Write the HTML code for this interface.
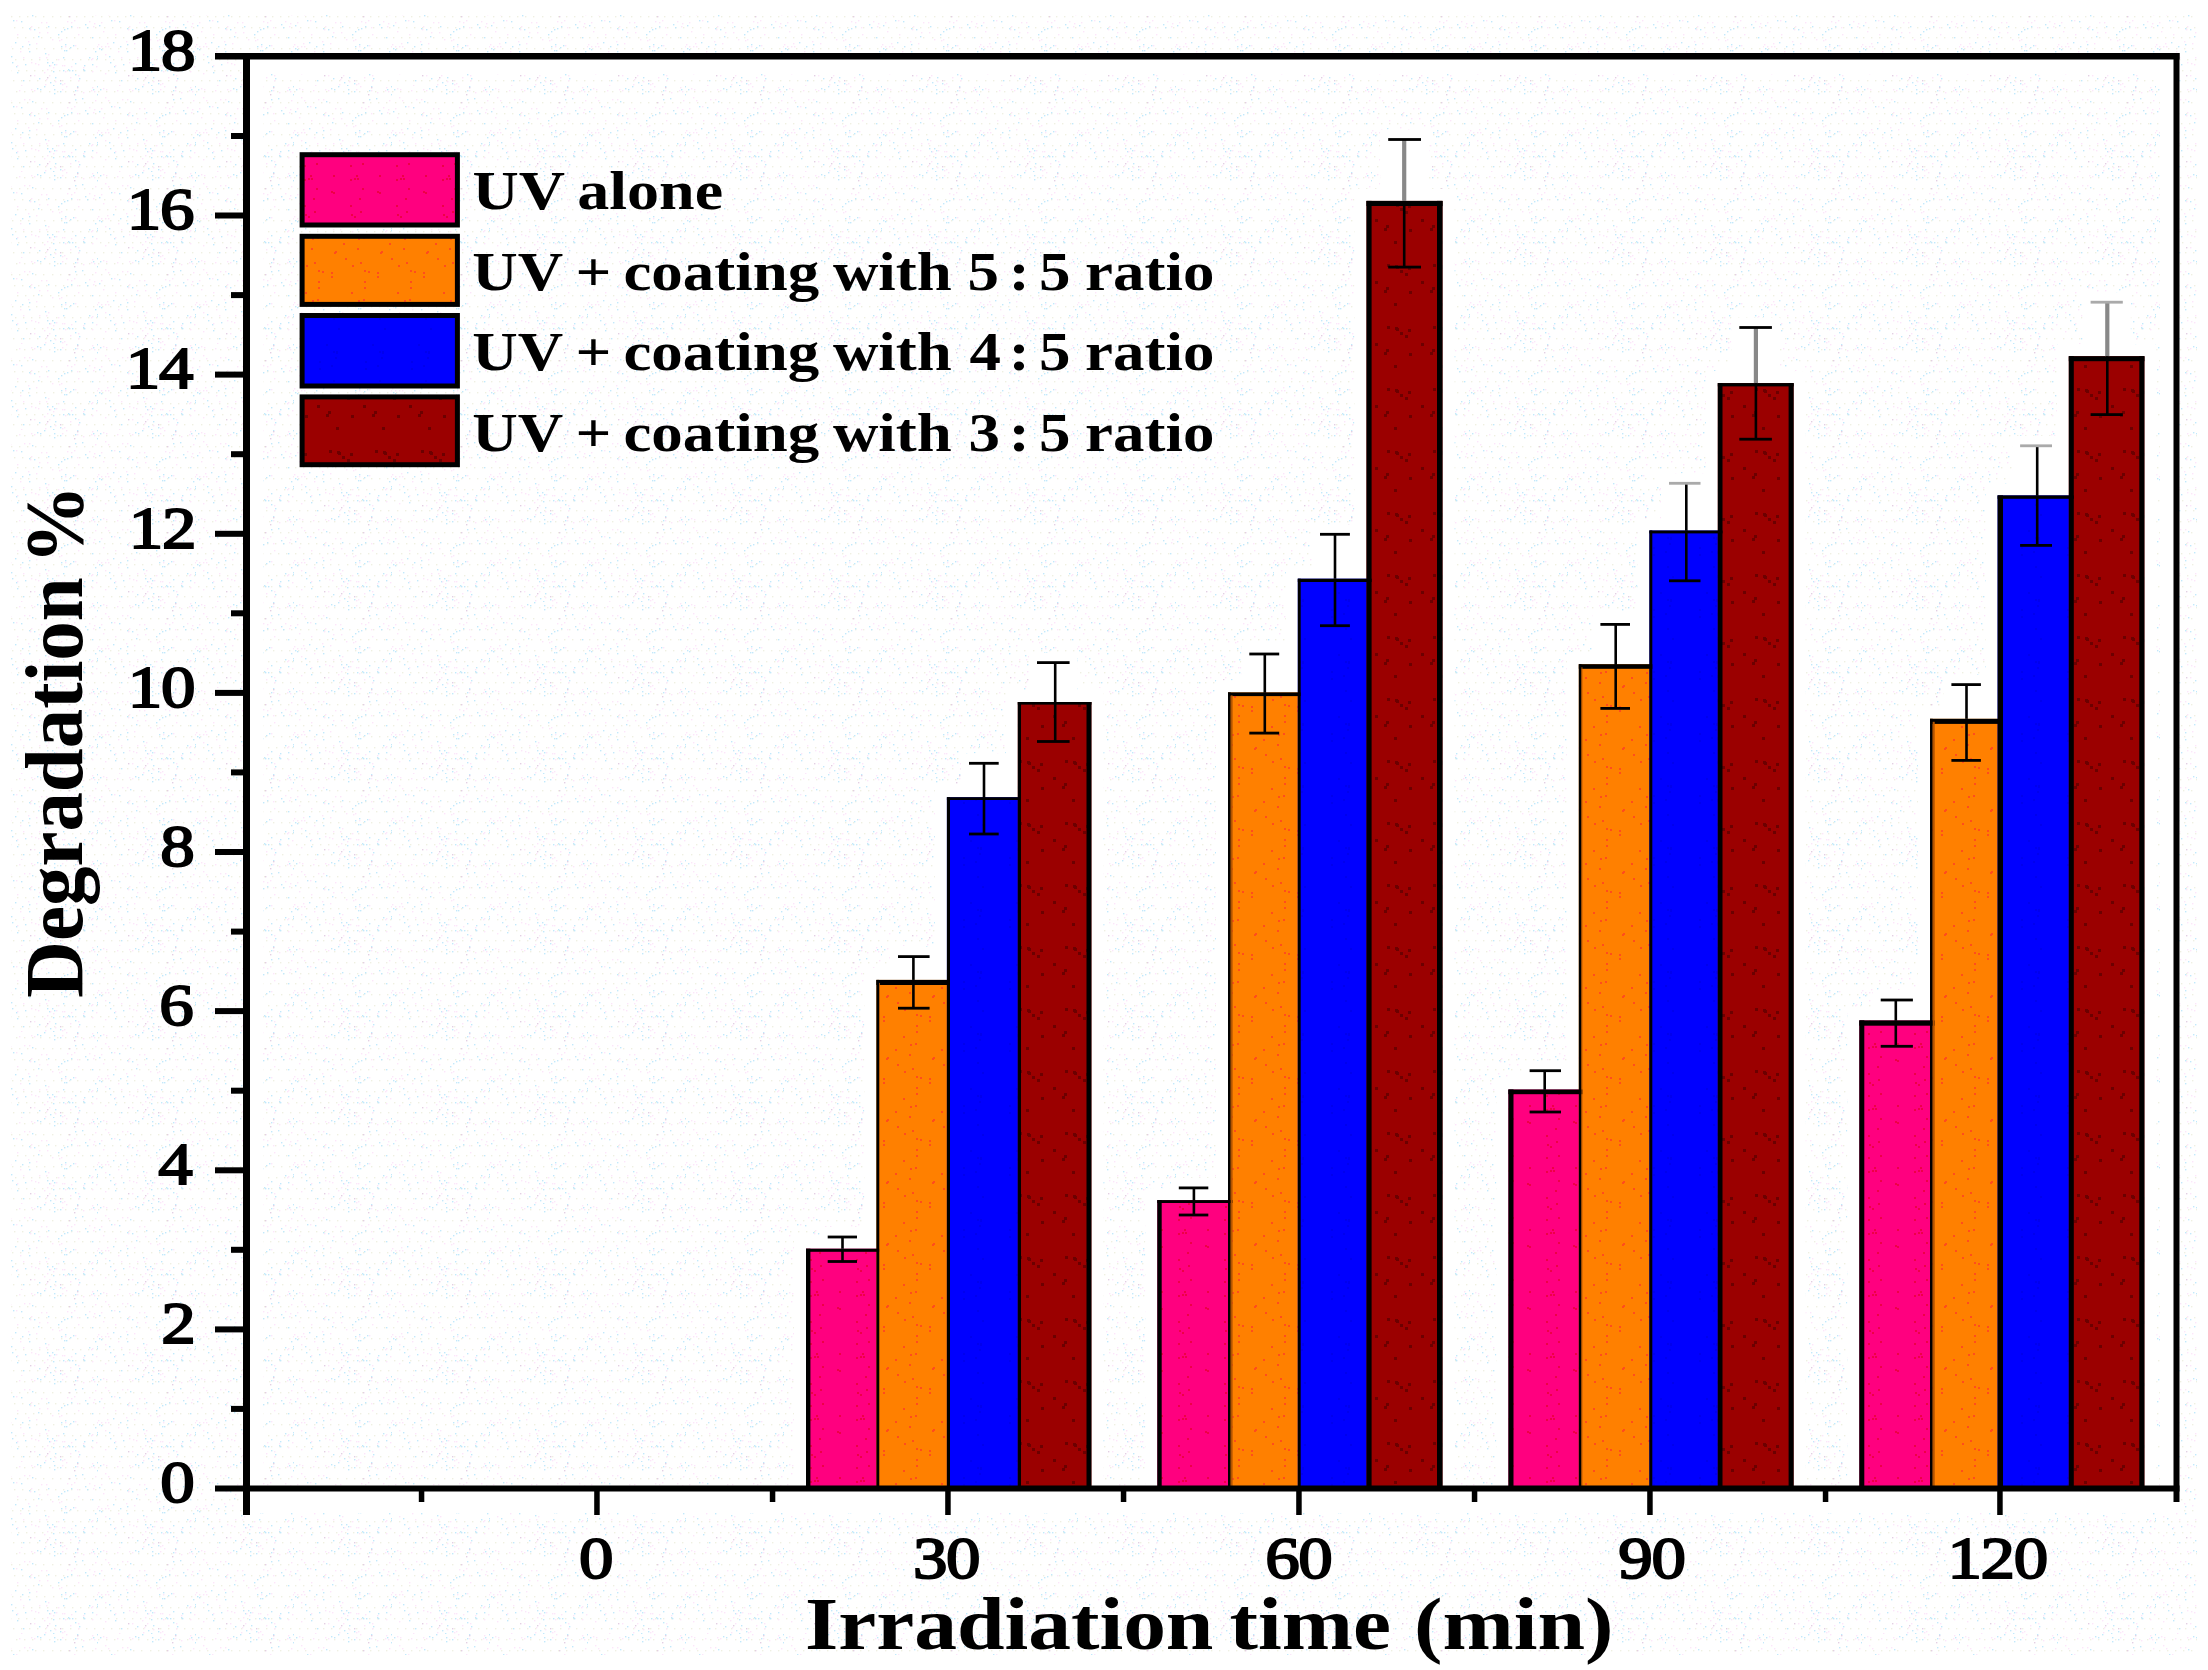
<!DOCTYPE html>
<html lang="en"><head><meta charset="utf-8"><title>Degradation % vs Irradiation time (min)</title>
<style>html,body{margin:0;padding:0;background:#fff}body{width:2208px;height:1670px;overflow:hidden}svg{display:block}text{font-family:"Liberation Serif","DejaVu Serif",serif;font-weight:700;fill:#000}</style></head><body>
<svg width="2208" height="1670" viewBox="0 0 2208 1670">
<defs>
<pattern id="bg" width="98" height="86" patternUnits="userSpaceOnUse"><rect x="0" y="5" width="1.4" height="1.4" fill="#eff0e2"/><rect x="8" y="5" width="1.4" height="1.4" fill="#eff0e2"/><rect x="16" y="5" width="1.4" height="1.4" fill="#eff0e2"/><rect x="24" y="5" width="1.4" height="1.4" fill="#eff0e2"/><rect x="32" y="5" width="1.4" height="1.4" fill="#eff0e2"/><rect x="40" y="5" width="1.4" height="1.4" fill="#eff0e2"/><rect x="49" y="5" width="1.4" height="1.4" fill="#eff0e2"/><rect x="57" y="5" width="1.4" height="1.4" fill="#eff0e2"/><rect x="65" y="5" width="1.4" height="1.4" fill="#eff0e2"/><rect x="73" y="5" width="1.4" height="1.4" fill="#eff0e2"/><rect x="81" y="5" width="1.4" height="1.4" fill="#eff0e2"/><rect x="89" y="5" width="1.4" height="1.4" fill="#eff0e2"/><rect x="3" y="16" width="1.4" height="1.4" fill="#eff0e2"/><rect x="11" y="16" width="1.4" height="1.4" fill="#eff0e2"/><rect x="19" y="16" width="1.4" height="1.4" fill="#eff0e2"/><rect x="27" y="16" width="1.4" height="1.4" fill="#eff0e2"/><rect x="35" y="16" width="1.4" height="1.4" fill="#eff0e2"/><rect x="43" y="16" width="1.4" height="1.4" fill="#eff0e2"/><rect x="52" y="16" width="1.4" height="1.4" fill="#eff0e2"/><rect x="60" y="16" width="1.4" height="1.4" fill="#eff0e2"/><rect x="68" y="16" width="1.4" height="1.4" fill="#eff0e2"/><rect x="76" y="16" width="1.4" height="1.4" fill="#eff0e2"/><rect x="84" y="16" width="1.4" height="1.4" fill="#eff0e2"/><rect x="92" y="16" width="1.4" height="1.4" fill="#eff0e2"/><rect x="6" y="27" width="1.4" height="1.4" fill="#eff0e2"/><rect x="14" y="27" width="1.4" height="1.4" fill="#eff0e2"/><rect x="22" y="27" width="1.4" height="1.4" fill="#eff0e2"/><rect x="30" y="27" width="1.4" height="1.4" fill="#eff0e2"/><rect x="38" y="27" width="1.4" height="1.4" fill="#eff0e2"/><rect x="46" y="27" width="1.4" height="1.4" fill="#eff0e2"/><rect x="55" y="27" width="1.4" height="1.4" fill="#eff0e2"/><rect x="63" y="27" width="1.4" height="1.4" fill="#eff0e2"/><rect x="71" y="27" width="1.4" height="1.4" fill="#eff0e2"/><rect x="79" y="27" width="1.4" height="1.4" fill="#eff0e2"/><rect x="87" y="27" width="1.4" height="1.4" fill="#eff0e2"/><rect x="95" y="27" width="1.4" height="1.4" fill="#eff0e2"/><rect x="1" y="37" width="1.4" height="1.4" fill="#eff0e2"/><rect x="9" y="37" width="1.4" height="1.4" fill="#eff0e2"/><rect x="17" y="37" width="1.4" height="1.4" fill="#eff0e2"/><rect x="25" y="37" width="1.4" height="1.4" fill="#eff0e2"/><rect x="33" y="37" width="1.4" height="1.4" fill="#eff0e2"/><rect x="41" y="37" width="1.4" height="1.4" fill="#eff0e2"/><rect x="50" y="37" width="1.4" height="1.4" fill="#eff0e2"/><rect x="58" y="37" width="1.4" height="1.4" fill="#eff0e2"/><rect x="66" y="37" width="1.4" height="1.4" fill="#eff0e2"/><rect x="74" y="37" width="1.4" height="1.4" fill="#eff0e2"/><rect x="82" y="37" width="1.4" height="1.4" fill="#eff0e2"/><rect x="90" y="37" width="1.4" height="1.4" fill="#eff0e2"/><rect x="4" y="48" width="1.4" height="1.4" fill="#eff0e2"/><rect x="12" y="48" width="1.4" height="1.4" fill="#eff0e2"/><rect x="20" y="48" width="1.4" height="1.4" fill="#eff0e2"/><rect x="28" y="48" width="1.4" height="1.4" fill="#eff0e2"/><rect x="36" y="48" width="1.4" height="1.4" fill="#eff0e2"/><rect x="44" y="48" width="1.4" height="1.4" fill="#eff0e2"/><rect x="53" y="48" width="1.4" height="1.4" fill="#eff0e2"/><rect x="61" y="48" width="1.4" height="1.4" fill="#eff0e2"/><rect x="69" y="48" width="1.4" height="1.4" fill="#eff0e2"/><rect x="77" y="48" width="1.4" height="1.4" fill="#eff0e2"/><rect x="85" y="48" width="1.4" height="1.4" fill="#eff0e2"/><rect x="93" y="48" width="1.4" height="1.4" fill="#eff0e2"/><rect x="7" y="59" width="1.4" height="1.4" fill="#eff0e2"/><rect x="15" y="59" width="1.4" height="1.4" fill="#eff0e2"/><rect x="23" y="59" width="1.4" height="1.4" fill="#eff0e2"/><rect x="31" y="59" width="1.4" height="1.4" fill="#eff0e2"/><rect x="39" y="59" width="1.4" height="1.4" fill="#eff0e2"/><rect x="47" y="59" width="1.4" height="1.4" fill="#eff0e2"/><rect x="56" y="59" width="1.4" height="1.4" fill="#eff0e2"/><rect x="64" y="59" width="1.4" height="1.4" fill="#eff0e2"/><rect x="72" y="59" width="1.4" height="1.4" fill="#eff0e2"/><rect x="80" y="59" width="1.4" height="1.4" fill="#eff0e2"/><rect x="88" y="59" width="1.4" height="1.4" fill="#eff0e2"/><rect x="96" y="59" width="1.4" height="1.4" fill="#eff0e2"/><rect x="2" y="70" width="1.4" height="1.4" fill="#eff0e2"/><rect x="10" y="70" width="1.4" height="1.4" fill="#eff0e2"/><rect x="18" y="70" width="1.4" height="1.4" fill="#eff0e2"/><rect x="26" y="70" width="1.4" height="1.4" fill="#eff0e2"/><rect x="34" y="70" width="1.4" height="1.4" fill="#eff0e2"/><rect x="42" y="70" width="1.4" height="1.4" fill="#eff0e2"/><rect x="51" y="70" width="1.4" height="1.4" fill="#eff0e2"/><rect x="59" y="70" width="1.4" height="1.4" fill="#eff0e2"/><rect x="67" y="70" width="1.4" height="1.4" fill="#eff0e2"/><rect x="75" y="70" width="1.4" height="1.4" fill="#eff0e2"/><rect x="83" y="70" width="1.4" height="1.4" fill="#eff0e2"/><rect x="91" y="70" width="1.4" height="1.4" fill="#eff0e2"/><rect x="5" y="80" width="1.4" height="1.4" fill="#eff0e2"/><rect x="13" y="80" width="1.4" height="1.4" fill="#eff0e2"/><rect x="21" y="80" width="1.4" height="1.4" fill="#eff0e2"/><rect x="29" y="80" width="1.4" height="1.4" fill="#eff0e2"/><rect x="37" y="80" width="1.4" height="1.4" fill="#eff0e2"/><rect x="45" y="80" width="1.4" height="1.4" fill="#eff0e2"/><rect x="54" y="80" width="1.4" height="1.4" fill="#eff0e2"/><rect x="62" y="80" width="1.4" height="1.4" fill="#eff0e2"/><rect x="70" y="80" width="1.4" height="1.4" fill="#eff0e2"/><rect x="78" y="80" width="1.4" height="1.4" fill="#eff0e2"/><rect x="86" y="80" width="1.4" height="1.4" fill="#eff0e2"/><rect x="94" y="80" width="1.4" height="1.4" fill="#eff0e2"/><rect x="17" y="72" width="1.4" height="1.4" fill="#c2e9fb"/><rect x="97" y="8" width="1.4" height="1.4" fill="#c2e9fb"/><rect x="32" y="15" width="1.4" height="1.4" fill="#c2e9fb"/><rect x="63" y="57" width="1.4" height="1.4" fill="#c2e9fb"/><rect x="60" y="83" width="1.4" height="1.4" fill="#c2e9fb"/><rect x="48" y="26" width="1.4" height="1.4" fill="#c2e9fb"/><rect x="12" y="62" width="1.4" height="1.4" fill="#c2e9fb"/><rect x="3" y="49" width="1.4" height="1.4" fill="#c2e9fb"/><rect x="55" y="77" width="1.4" height="1.4" fill="#c2e9fb"/><rect x="97" y="0" width="1.4" height="1.4" fill="#c2e9fb"/><rect x="89" y="57" width="1.4" height="1.4" fill="#c2e9fb"/><rect x="34" y="29" width="1.4" height="1.4" fill="#c2e9fb"/><rect x="75" y="13" width="1.4" height="1.4" fill="#c2e9fb"/><rect x="40" y="3" width="1.4" height="1.4" fill="#c2e9fb"/><rect x="2" y="3" width="1.4" height="1.4" fill="#c2e9fb"/><rect x="83" y="69" width="1.4" height="1.4" fill="#c2e9fb"/><rect x="1" y="48" width="1.4" height="1.4" fill="#c2e9fb"/><rect x="87" y="27" width="1.4" height="1.4" fill="#c2e9fb"/><rect x="54" y="3" width="1.4" height="1.4" fill="#c2e9fb"/><rect x="67" y="28" width="1.4" height="1.4" fill="#c2e9fb"/><rect x="97" y="56" width="1.4" height="1.4" fill="#c2e9fb"/><rect x="63" y="70" width="1.4" height="1.4" fill="#c2e9fb"/><rect x="29" y="44" width="1.4" height="1.4" fill="#c2e9fb"/><rect x="29" y="28" width="1.4" height="1.4" fill="#c2e9fb"/><rect x="97" y="58" width="1.4" height="1.4" fill="#c2e9fb"/><rect x="37" y="2" width="1.4" height="1.4" fill="#c2e9fb"/><rect x="53" y="71" width="1.4" height="1.4" fill="#c2e9fb"/><rect x="82" y="12" width="1.4" height="1.4" fill="#c2e9fb"/><rect x="23" y="80" width="1.4" height="1.4" fill="#c2e9fb"/><rect x="92" y="37" width="1.4" height="1.4" fill="#c2e9fb"/><rect x="15" y="42" width="1.4" height="1.4" fill="#c2e9fb"/><rect x="92" y="64" width="1.4" height="1.4" fill="#c2e9fb"/><rect x="54" y="64" width="1.4" height="1.4" fill="#c2e9fb"/><rect x="85" y="24" width="1.4" height="1.4" fill="#c2e9fb"/><rect x="38" y="36" width="1.4" height="1.4" fill="#c2e9fb"/><rect x="75" y="63" width="1.4" height="1.4" fill="#c2e9fb"/><rect x="64" y="50" width="1.4" height="1.4" fill="#c2e9fb"/><rect x="75" y="4" width="1.4" height="1.4" fill="#c2e9fb"/><rect x="61" y="31" width="1.4" height="1.4" fill="#c2e9fb"/><rect x="95" y="51" width="1.4" height="1.4" fill="#c2e9fb"/><rect x="53" y="85" width="1.4" height="1.4" fill="#c2e9fb"/><rect x="22" y="46" width="1.4" height="1.4" fill="#c2e9fb"/><rect x="70" y="47" width="1.4" height="1.4" fill="#c2e9fb"/><rect x="11" y="56" width="1.4" height="1.4" fill="#c2e9fb"/><rect x="84" y="65" width="1.4" height="1.4" fill="#c2e9fb"/><rect x="13" y="20" width="1.4" height="1.4" fill="#c2e9fb"/><rect x="66" y="50" width="1.4" height="1.4" fill="#c2e9fb"/><rect x="47" y="62" width="1.4" height="1.4" fill="#c2e9fb"/><rect x="93" y="3" width="1.4" height="1.4" fill="#c2e9fb"/><rect x="60" y="5" width="1.4" height="1.4" fill="#c2e9fb"/><rect x="39" y="78" width="1.4" height="1.4" fill="#c2e9fb"/><rect x="75" y="74" width="1.4" height="1.4" fill="#c2e9fb"/><rect x="50" y="82" width="1.4" height="1.4" fill="#c2e9fb"/><rect x="21" y="21" width="1.4" height="1.4" fill="#c2e9fb"/><rect x="64" y="29" width="1.4" height="1.4" fill="#c2e9fb"/><rect x="1" y="25" width="1.4" height="1.4" fill="#c2e9fb"/><rect x="69" y="70" width="1.4" height="1.4" fill="#c2e9fb"/><rect x="29" y="51" width="1.4" height="1.4" fill="#c2e9fb"/><rect x="65" y="44" width="1.4" height="1.4" fill="#c2e9fb"/><rect x="73" y="45" width="1.4" height="1.4" fill="#c2e9fb"/><rect x="58" y="34" width="1.4" height="1.4" fill="#c2e9fb"/><rect x="84" y="70" width="1.4" height="1.4" fill="#c2e9fb"/><rect x="77" y="0" width="1.4" height="1.4" fill="#c2e9fb"/><rect x="49" y="65" width="1.4" height="1.4" fill="#c2e9fb"/><rect x="16" y="66" width="1.4" height="1.4" fill="#c2e9fb"/><rect x="71" y="26" width="1.4" height="1.4" fill="#c2e9fb"/><rect x="54" y="7" width="1.4" height="1.4" fill="#c2e9fb"/><rect x="61" y="46" width="1.4" height="1.4" fill="#c2e9fb"/><rect x="72" y="70" width="1.4" height="1.4" fill="#c2e9fb"/><rect x="25" y="64" width="1.4" height="1.4" fill="#c2e9fb"/><rect x="52" y="62" width="1.4" height="1.4" fill="#c2e9fb"/><rect x="45" y="53" width="1.4" height="1.4" fill="#c2e9fb"/><rect x="44" y="0" width="1.4" height="1.4" fill="#c2e9fb"/><rect x="68" y="69" width="1.4" height="1.4" fill="#c2e9fb"/><rect x="79" y="78" width="1.4" height="1.4" fill="#c2e9fb"/><rect x="7" y="11" width="1.4" height="1.4" fill="#fce6fa"/><rect x="10" y="46" width="1.4" height="1.4" fill="#fce6fa"/><rect x="21" y="85" width="1.4" height="1.4" fill="#fce6fa"/><rect x="39" y="32" width="1.4" height="1.4" fill="#fce6fa"/><rect x="77" y="27" width="1.4" height="1.4" fill="#fce6fa"/><rect x="77" y="4" width="1.4" height="1.4" fill="#fce6fa"/><rect x="74" y="20" width="1.4" height="1.4" fill="#fce6fa"/><rect x="55" y="81" width="1.4" height="1.4" fill="#fce6fa"/><rect x="50" y="65" width="1.4" height="1.4" fill="#fce6fa"/><rect x="47" y="69" width="1.4" height="1.4" fill="#fce6fa"/><rect x="56" y="64" width="1.4" height="1.4" fill="#fce6fa"/><rect x="34" y="4" width="1.4" height="1.4" fill="#fce6fa"/><rect x="3" y="46" width="1.4" height="1.4" fill="#fce6fa"/><rect x="59" y="40" width="1.4" height="1.4" fill="#fce6fa"/><rect x="48" y="54" width="1.4" height="1.4" fill="#fce6fa"/><rect x="67" y="21" width="1.4" height="1.4" fill="#fce6fa"/><rect x="71" y="22" width="1.4" height="1.4" fill="#fce6fa"/><rect x="30" y="29" width="1.4" height="1.4" fill="#fce6fa"/><rect x="3" y="22" width="1.4" height="1.4" fill="#fce6fa"/><rect x="41" y="22" width="1.4" height="1.4" fill="#fce6fa"/><rect x="17" y="65" width="1.4" height="1.4" fill="#fce6fa"/><rect x="65" y="46" width="1.4" height="1.4" fill="#fce6fa"/><rect x="65" y="71" width="1.4" height="1.4" fill="#fce6fa"/><rect x="23" y="57" width="1.4" height="1.4" fill="#fce6fa"/><rect x="53" y="67" width="1.4" height="1.4" fill="#fce6fa"/><rect x="97" y="46" width="1.4" height="1.4" fill="#fce6fa"/><rect x="75" y="45" width="1.4" height="1.4" fill="#fce6fa"/><rect x="46" y="57" width="1.4" height="1.4" fill="#fce6fa"/><rect x="20" y="51" width="1.4" height="1.4" fill="#fce6fa"/><rect x="91" y="59" width="1.4" height="1.4" fill="#fce6fa"/><rect x="83" y="67" width="1.4" height="1.4" fill="#fce6fa"/><rect x="31" y="62" width="1.4" height="1.4" fill="#fce6fa"/><rect x="35" y="63" width="1.4" height="1.4" fill="#fce6fa"/><rect x="64" y="65" width="1.4" height="1.4" fill="#fce6fa"/><rect x="45" y="84" width="1.4" height="1.4" fill="#fce6fa"/><rect x="58" y="59" width="1.4" height="1.4" fill="#fce6fa"/><rect x="44" y="72" width="1.4" height="1.4" fill="#fce6fa"/><rect x="92" y="71" width="1.4" height="1.4" fill="#fce6fa"/><rect x="92" y="58" width="1.4" height="1.4" fill="#fce6fa"/><rect x="62" y="84" width="1.4" height="1.4" fill="#fce6fa"/><rect x="28" y="41" width="1.4" height="1.4" fill="#fce6fa"/><rect x="89" y="21" width="1.4" height="1.4" fill="#fce6fa"/><rect x="78" y="34" width="1.4" height="1.4" fill="#fce6fa"/><rect x="61" y="39" width="1.4" height="1.4" fill="#fce6fa"/><rect x="38" y="64" width="1.4" height="1.4" fill="#fce6fa"/><rect x="71" y="66" width="1.4" height="1.4" fill="#fce6fa"/><rect x="64" y="83" width="1.4" height="1.4" fill="#fce6fa"/><rect x="78" y="75" width="1.4" height="1.4" fill="#fce6fa"/><rect x="52" y="39" width="1.4" height="1.4" fill="#fce6fa"/><rect x="93" y="26" width="1.4" height="1.4" fill="#fce6fa"/><rect x="62" y="65" width="1.4" height="1.4" fill="#fce6fa"/><rect x="46" y="79" width="1.4" height="1.4" fill="#fce6fa"/><rect x="9" y="43" width="1.4" height="1.4" fill="#fce6fa"/><rect x="92" y="1" width="1.4" height="1.4" fill="#fce6fa"/><rect x="24" y="13" width="1.4" height="1.4" fill="#fce6fa"/><rect x="7" y="73" width="1.4" height="1.4" fill="#fce6fa"/><rect x="83" y="6" width="1.4" height="1.4" fill="#fce6fa"/><rect x="34" y="75" width="1.4" height="1.4" fill="#fce6fa"/><rect x="29" y="13" width="1.4" height="1.4" fill="#fce6fa"/><rect x="96" y="66" width="1.4" height="1.4" fill="#fce6fa"/><rect x="17" y="34" width="1.4" height="1.4" fill="#fce6fa"/><rect x="31" y="26" width="1.4" height="1.4" fill="#fce6fa"/><rect x="7" y="54" width="1.4" height="1.4" fill="#fce6fa"/><rect x="91" y="4" width="1.4" height="1.4" fill="#fce6fa"/><rect x="7" y="46" width="1.4" height="1.4" fill="#fce6fa"/><rect x="46" y="22" width="1.4" height="1.4" fill="#fce6fa"/><rect x="31" y="3" width="1.4" height="1.4" fill="#fce6fa"/><rect x="10" y="14" width="1.4" height="1.4" fill="#fce6fa"/><rect x="8" y="3" width="1.4" height="1.4" fill="#fce6fa"/><rect x="5" y="2" width="1.4" height="1.4" fill="#fce6fa"/><rect x="47" y="32" width="1.4" height="1.4" fill="#fce6fa"/><rect x="16" y="20" width="1.4" height="1.4" fill="#fce6fa"/><rect x="94" y="23" width="1.4" height="1.4" fill="#fce6fa"/><rect x="66" y="0" width="1.4" height="1.4" fill="#fce6fa"/><rect x="49" y="75" width="1.4" height="1.4" fill="#fce6fa"/><rect x="5" y="31" width="1.4" height="1.4" fill="#fce6fa"/><rect x="19" y="4" width="1.4" height="1.4" fill="#fce6fa"/><rect x="0" y="44" width="1.4" height="1.4" fill="#fce6fa"/><rect x="78" y="80" width="1.4" height="1.4" fill="#fce6fa"/><rect x="95" y="14" width="1.4" height="1.4" fill="#fce6fa"/><rect x="36" y="43" width="1.4" height="1.4" fill="#fce6fa"/><rect x="62" y="3" width="1.4" height="1.4" fill="#fce6fa"/><rect x="39" y="57" width="1.4" height="1.4" fill="#fce6fa"/><rect x="70" y="77" width="1.4" height="1.4" fill="#fce6fa"/><rect x="94" y="5" width="1.4" height="1.4" fill="#fce6fa"/><rect x="30" y="75" width="1.4" height="1.4" fill="#e3cfe3"/><rect x="69" y="16" width="1.4" height="1.4" fill="#e3cfe3"/><rect x="47" y="77" width="1.4" height="1.4" fill="#e3cfe3"/><rect x="60" y="80" width="1.4" height="1.4" fill="#e3cfe3"/><rect x="74" y="8" width="1.4" height="1.4" fill="#e3cfe3"/><rect x="77" y="1" width="1.4" height="1.4" fill="#e3cfe3"/></pattern>
<pattern id="pk" width="46" height="62" patternUnits="userSpaceOnUse"><rect width="46" height="62" fill="#ff007f"/><rect x="28" y="55" width="2" height="2" fill="#ee0046"/><rect x="35" y="54" width="2" height="2" fill="#ee0046"/><rect x="29" y="28" width="2" height="2" fill="#ee0046"/><rect x="32" y="54" width="2" height="2" fill="#ee0046"/><rect x="37" y="12" width="2" height="2" fill="#ee0046"/><rect x="11" y="51" width="2" height="2" fill="#ee0046"/><rect x="32" y="30" width="2" height="2" fill="#ee0046"/><rect x="40" y="39" width="2" height="2" fill="#ee0046"/><rect x="11" y="6" width="2" height="2" fill="#ee0046"/><rect x="28" y="19" width="2" height="2" fill="#ee0046"/><rect x="9" y="5" width="2" height="2" fill="#ee0046"/><rect x="34" y="51" width="2" height="2" fill="#ee0046"/><rect x="40" y="2" width="2" height="2" fill="#ee0046"/><rect x="38" y="25" width="2" height="2" fill="#ee0046"/><rect x="28" y="41" width="2" height="2" fill="#ee0046"/></pattern>
<pattern id="og" width="46" height="62" patternUnits="userSpaceOnUse"><rect width="46" height="62" fill="#ff8000"/><rect x="30" y="17" width="2" height="2" fill="#ff4d1c"/><rect x="42" y="33" width="2" height="2" fill="#ff4d1c"/><rect x="42" y="22" width="2" height="2" fill="#ff4d1c"/><rect x="9" y="24" width="2" height="2" fill="#ff4d1c"/><rect x="0" y="23" width="2" height="2" fill="#ff4d1c"/><rect x="30" y="17" width="2" height="2" fill="#ff4d1c"/><rect x="41" y="51" width="2" height="2" fill="#ff4d1c"/><rect x="29" y="44" width="2" height="2" fill="#ff4d1c"/><rect x="38" y="14" width="2" height="2" fill="#ff4d1c"/><rect x="35" y="0" width="2" height="2" fill="#ff4d1c"/><rect x="42" y="39" width="2" height="2" fill="#ff4d1c"/><rect x="9" y="28" width="2" height="2" fill="#ff4d1c"/><rect x="23" y="10" width="2" height="2" fill="#ff4d1c"/><rect x="21" y="57" width="2" height="2" fill="#ff4d1c"/><rect x="13" y="3" width="2" height="2" fill="#ff4d1c"/><rect x="36" y="52" width="2" height="2" fill="#ff4d1c"/><rect x="12" y="4" width="2" height="2" fill="#ff4d1c"/></pattern>
<pattern id="bl" width="46" height="62" patternUnits="userSpaceOnUse"><rect width="46" height="62" fill="#0000ff"/><rect x="16" y="18" width="2" height="2" fill="#0000ee"/><rect x="43" y="58" width="2" height="2" fill="#0000ee"/><rect x="43" y="51" width="2" height="2" fill="#0000ee"/><rect x="11" y="41" width="2" height="2" fill="#0000ee"/><rect x="14" y="42" width="2" height="2" fill="#0000ee"/><rect x="9" y="55" width="2" height="2" fill="#0000ee"/><rect x="14" y="41" width="2" height="2" fill="#0000ee"/><rect x="11" y="8" width="2" height="2" fill="#0000ee"/><rect x="4" y="34" width="2" height="2" fill="#0000ee"/><rect x="13" y="47" width="2" height="2" fill="#0000ee"/></pattern>
<pattern id="dr" width="46" height="62" patternUnits="userSpaceOnUse"><rect width="46" height="62" fill="#9b0000"/><rect x="6" y="39" width="3" height="3" fill="#6c0000"/><rect x="41" y="33" width="3" height="3" fill="#6c0000"/><rect x="15" y="17" width="3" height="3" fill="#6c0000"/><rect x="16" y="18" width="3" height="3" fill="#6c0000"/><rect x="4" y="42" width="3" height="3" fill="#6c0000"/><rect x="28" y="19" width="3" height="3" fill="#6c0000"/><rect x="29" y="43" width="3" height="3" fill="#6c0000"/><rect x="25" y="25" width="3" height="3" fill="#6c0000"/><rect x="7" y="16" width="3" height="3" fill="#6c0000"/><rect x="14" y="55" width="3" height="3" fill="#6c0000"/><rect x="20" y="22" width="3" height="3" fill="#6c0000"/></pattern>
</defs>
<rect width="2208" height="1670" fill="#fff"/>
<rect x="11" y="15" width="2186" height="1640" fill="url(#bg)"/>
<g fill="#fff">
<rect x="250" y="59" width="13" height="1427"/><rect x="2160" y="59" width="14" height="1427"/><rect x="250" y="59" width="1924" height="15"/><rect x="250" y="1491" width="1930" height="22"/>
</g>
<rect x="794.0" y="1236.7" width="98.0" height="251.8" fill="#fff"/>
<rect x="864.4" y="967.9" width="97.6" height="520.6" fill="#fff"/>
<rect x="934.9" y="785.2" width="98.1" height="703.3" fill="#fff"/>
<rect x="1005.8" y="690.0" width="97.6" height="798.5" fill="#fff"/>
<rect x="819.7" y="1227.0" width="45.3" height="21.7" fill="#fff"/>
<rect x="890.0" y="946.6" width="47.6" height="33.3" fill="#fff"/>
<rect x="961.0" y="753.3" width="45.7" height="43.9" fill="#fff"/>
<rect x="1029.0" y="652.6" width="48.6" height="49.4" fill="#fff"/>
<rect x="806.0" y="1248.7" width="74.0" height="239.8" fill="url(#pk)"/>
<rect x="876.4" y="979.9" width="73.6" height="508.6" fill="url(#og)"/>
<rect x="946.9" y="797.2" width="74.1" height="691.3" fill="url(#bl)"/>
<rect x="1017.8" y="702.0" width="73.6" height="786.5" fill="url(#dr)"/>
<rect x="806.0" y="1248.7" width="74.0" height="3.1" fill="#000"/>
<rect x="876.4" y="979.9" width="73.6" height="5.1" fill="#000"/>
<rect x="946.9" y="797.2" width="74.1" height="2.8" fill="#000"/>
<rect x="1017.8" y="702.0" width="73.6" height="2.6" fill="#000"/>
<rect x="806.0" y="1248.7" width="4.4" height="239.8" fill="#000"/>
<rect x="876.4" y="979.9" width="2.7" height="508.6" fill="#000"/>
<rect x="879.1" y="982.9" width="0.9" height="505.6" fill="#b35400"/>
<rect x="946.9" y="797.2" width="3.1" height="691.3" fill="#000"/>
<rect x="1017.8" y="702.0" width="3.2" height="786.5" fill="#000"/>
<rect x="1086.5" y="702.0" width="4.9" height="786.5" fill="#000"/>
<rect x="841.2" y="1237.0" width="2.6" height="11.7" fill="#000"/>
<rect x="841.2" y="1248.7" width="2.6" height="12.8" fill="#000"/>
<rect x="827.7" y="1235.6" width="29.3" height="2.8" fill="#000"/>
<rect x="827.7" y="1260.1" width="29.3" height="2.8" fill="#000"/>
<rect x="912.1" y="956.6" width="2.6" height="23.3" fill="#000"/>
<rect x="912.1" y="979.9" width="2.6" height="28.3" fill="#000"/>
<rect x="898.0" y="955.2" width="31.6" height="2.8" fill="#000"/>
<rect x="898.0" y="1006.8" width="31.6" height="2.8" fill="#000"/>
<rect x="982.7" y="763.3" width="2.6" height="33.9" fill="#000"/>
<rect x="982.7" y="797.2" width="2.6" height="36.8" fill="#000"/>
<rect x="969.0" y="761.9" width="29.7" height="2.8" fill="#000"/>
<rect x="969.0" y="832.6" width="29.7" height="2.8" fill="#000"/>
<rect x="1053.9" y="662.6" width="2.6" height="39.4" fill="#000"/>
<rect x="1053.9" y="702.0" width="2.6" height="39.5" fill="#000"/>
<rect x="1037.0" y="661.2" width="32.6" height="2.8" fill="#000"/>
<rect x="1037.0" y="740.1" width="32.6" height="2.8" fill="#000"/>
<rect x="1145.3" y="1188.1" width="99.3" height="300.4" fill="#fff"/>
<rect x="1216.0" y="680.4" width="96.7" height="808.1" fill="#fff"/>
<rect x="1285.8" y="566.7" width="97.8" height="921.8" fill="#fff"/>
<rect x="1354.5" y="188.9" width="100.0" height="1299.6" fill="#fff"/>
<rect x="1170.8" y="1177.9" width="45.5" height="22.2" fill="#fff"/>
<rect x="1241.3" y="644.0" width="45.9" height="48.4" fill="#fff"/>
<rect x="1312.0" y="524.3" width="45.9" height="54.4" fill="#fff"/>
<rect x="1380.2" y="129.5" width="48.8" height="71.4" fill="#fff"/>
<rect x="1157.3" y="1200.1" width="75.3" height="288.4" fill="url(#pk)"/>
<rect x="1228.0" y="692.4" width="72.7" height="796.1" fill="url(#og)"/>
<rect x="1297.8" y="578.7" width="73.8" height="909.8" fill="url(#bl)"/>
<rect x="1366.5" y="200.9" width="76.0" height="1287.6" fill="url(#dr)"/>
<rect x="1157.3" y="1200.1" width="75.3" height="2.9" fill="#000"/>
<rect x="1228.0" y="692.4" width="72.7" height="3.7" fill="#000"/>
<rect x="1297.8" y="578.7" width="73.8" height="3.3" fill="#000"/>
<rect x="1366.5" y="200.9" width="76.0" height="5.1" fill="#000"/>
<rect x="1157.3" y="1200.1" width="4.4" height="288.4" fill="#000"/>
<rect x="1228.0" y="692.4" width="2.7" height="796.1" fill="#000"/>
<rect x="1230.7" y="695.4" width="1.9" height="793.1" fill="#b35400"/>
<rect x="1297.8" y="578.7" width="2.9" height="909.8" fill="#000"/>
<rect x="1366.5" y="200.9" width="5.1" height="1287.6" fill="#000"/>
<rect x="1437.0" y="200.9" width="5.5" height="1287.6" fill="#000"/>
<rect x="1192.6" y="1187.9" width="2.6" height="12.2" fill="#000"/>
<rect x="1192.6" y="1200.1" width="2.6" height="14.9" fill="#000"/>
<rect x="1178.8" y="1186.5" width="29.5" height="2.8" fill="#000"/>
<rect x="1178.8" y="1213.6" width="29.5" height="2.8" fill="#000"/>
<rect x="1263.5" y="654.0" width="2.6" height="38.4" fill="#000"/>
<rect x="1263.5" y="692.4" width="2.6" height="40.7" fill="#000"/>
<rect x="1249.3" y="652.6" width="29.9" height="2.8" fill="#000"/>
<rect x="1249.3" y="731.7" width="29.9" height="2.8" fill="#000"/>
<rect x="1333.7" y="534.3" width="2.6" height="44.4" fill="#000"/>
<rect x="1333.7" y="578.7" width="2.6" height="47.0" fill="#000"/>
<rect x="1320.0" y="532.9" width="29.9" height="2.8" fill="#000"/>
<rect x="1320.0" y="624.3" width="29.9" height="2.8" fill="#000"/>
<rect x="1402.1" y="139.5" width="4.2" height="61.4" fill="#888"/>
<rect x="1402.9" y="200.9" width="2.6" height="66.2" fill="#000"/>
<rect x="1388.2" y="138.1" width="32.8" height="2.8" fill="#000"/>
<rect x="1388.2" y="265.7" width="32.8" height="2.8" fill="#000"/>
<rect x="1496.4" y="1077.5" width="98.0" height="411.0" fill="#fff"/>
<rect x="1566.8" y="652.2" width="97.5" height="836.3" fill="#fff"/>
<rect x="1637.4" y="518.5" width="97.1" height="970.0" fill="#fff"/>
<rect x="1705.8" y="371.1" width="99.8" height="1117.4" fill="#fff"/>
<rect x="1521.6" y="1060.7" width="47.4" height="28.8" fill="#fff"/>
<rect x="1592.4" y="614.4" width="45.6" height="49.8" fill="#fff"/>
<rect x="1661.0" y="473.3" width="47.5" height="57.2" fill="#fff"/>
<rect x="1731.3" y="317.5" width="48.6" height="65.6" fill="#fff"/>
<rect x="1508.4" y="1089.5" width="74.0" height="399.0" fill="url(#pk)"/>
<rect x="1578.8" y="664.2" width="73.5" height="824.3" fill="url(#og)"/>
<rect x="1649.4" y="530.5" width="73.1" height="958.0" fill="url(#bl)"/>
<rect x="1717.8" y="383.1" width="75.8" height="1105.4" fill="url(#dr)"/>
<rect x="1508.4" y="1089.5" width="74.0" height="4.7" fill="#000"/>
<rect x="1578.8" y="664.2" width="73.5" height="4.6" fill="#000"/>
<rect x="1649.4" y="530.5" width="73.1" height="2.9" fill="#000"/>
<rect x="1717.8" y="383.1" width="75.8" height="3.3" fill="#000"/>
<rect x="1508.4" y="1089.5" width="5.1" height="399.0" fill="#000"/>
<rect x="1578.8" y="664.2" width="2.7" height="824.3" fill="#000"/>
<rect x="1581.5" y="667.2" width="0.9" height="821.3" fill="#b35400"/>
<rect x="1649.4" y="530.5" width="2.9" height="958.0" fill="#000"/>
<rect x="1717.8" y="383.1" width="4.7" height="1105.4" fill="#000"/>
<rect x="1788.6" y="383.1" width="5.0" height="1105.4" fill="#000"/>
<rect x="1543.4" y="1070.7" width="2.6" height="18.8" fill="#000"/>
<rect x="1543.4" y="1089.5" width="2.6" height="22.5" fill="#000"/>
<rect x="1529.6" y="1069.3" width="31.4" height="2.8" fill="#000"/>
<rect x="1529.6" y="1110.6" width="31.4" height="2.8" fill="#000"/>
<rect x="1614.4" y="624.4" width="2.6" height="39.8" fill="#000"/>
<rect x="1614.4" y="664.2" width="2.6" height="44.2" fill="#000"/>
<rect x="1600.4" y="623.0" width="29.6" height="2.8" fill="#000"/>
<rect x="1600.4" y="707.0" width="29.6" height="2.8" fill="#000"/>
<rect x="1685.0" y="483.3" width="2.6" height="47.2" fill="#000"/>
<rect x="1685.0" y="530.5" width="2.6" height="50.3" fill="#000"/>
<rect x="1669.0" y="481.9" width="31.5" height="2.8" fill="#aaa"/>
<rect x="1669.0" y="579.4" width="31.5" height="2.8" fill="#000"/>
<rect x="1753.8" y="327.5" width="4.2" height="55.6" fill="#888"/>
<rect x="1754.6" y="383.1" width="2.6" height="56.1" fill="#000"/>
<rect x="1739.3" y="326.1" width="32.6" height="2.8" fill="#000"/>
<rect x="1739.3" y="437.8" width="32.6" height="2.8" fill="#000"/>
<rect x="1847.3" y="1008.4" width="99.4" height="480.1" fill="#fff"/>
<rect x="1918.0" y="706.8" width="97.0" height="781.7" fill="#fff"/>
<rect x="1985.6" y="483.4" width="100.2" height="1005.1" fill="#fff"/>
<rect x="2056.8" y="344.2" width="99.6" height="1144.3" fill="#fff"/>
<rect x="1872.7" y="990.0" width="48.2" height="30.4" fill="#fff"/>
<rect x="1943.4" y="674.6" width="45.5" height="44.2" fill="#fff"/>
<rect x="2012.1" y="435.8" width="47.9" height="59.6" fill="#fff"/>
<rect x="2082.6" y="292.2" width="48.2" height="64.0" fill="#fff"/>
<rect x="1859.3" y="1020.4" width="75.4" height="468.1" fill="url(#pk)"/>
<rect x="1930.0" y="718.8" width="73.0" height="769.7" fill="url(#og)"/>
<rect x="1997.6" y="495.4" width="76.2" height="993.1" fill="url(#bl)"/>
<rect x="2068.8" y="356.2" width="75.6" height="1132.3" fill="url(#dr)"/>
<rect x="1859.3" y="1020.4" width="75.4" height="5.3" fill="#000"/>
<rect x="1930.0" y="718.8" width="73.0" height="5.1" fill="#000"/>
<rect x="1997.6" y="495.4" width="76.2" height="3.4" fill="#000"/>
<rect x="2068.8" y="356.2" width="75.6" height="5.0" fill="#000"/>
<rect x="1859.3" y="1020.4" width="5.0" height="468.1" fill="#000"/>
<rect x="1930.0" y="718.8" width="2.7" height="769.7" fill="#000"/>
<rect x="1932.7" y="721.8" width="2.0" height="766.7" fill="#b35400"/>
<rect x="1997.6" y="495.4" width="5.4" height="993.1" fill="#000"/>
<rect x="2068.8" y="356.2" width="5.0" height="1132.3" fill="#000"/>
<rect x="2139.3" y="356.2" width="5.1" height="1132.3" fill="#000"/>
<rect x="1894.5" y="1000.0" width="2.6" height="20.4" fill="#000"/>
<rect x="1894.5" y="1020.4" width="2.6" height="25.9" fill="#000"/>
<rect x="1880.7" y="998.6" width="32.2" height="2.8" fill="#000"/>
<rect x="1880.7" y="1044.9" width="32.2" height="2.8" fill="#000"/>
<rect x="1965.2" y="684.6" width="2.6" height="34.2" fill="#000"/>
<rect x="1965.2" y="718.8" width="2.6" height="41.6" fill="#000"/>
<rect x="1951.4" y="683.2" width="29.5" height="2.8" fill="#000"/>
<rect x="1951.4" y="759.0" width="29.5" height="2.8" fill="#000"/>
<rect x="2035.9" y="445.8" width="2.6" height="49.6" fill="#000"/>
<rect x="2035.9" y="495.4" width="2.6" height="50.0" fill="#000"/>
<rect x="2020.1" y="444.4" width="31.9" height="2.8" fill="#aaa"/>
<rect x="2020.1" y="544.0" width="31.9" height="2.8" fill="#000"/>
<rect x="2105.2" y="302.2" width="4.2" height="54.0" fill="#888"/>
<rect x="2106.0" y="356.2" width="2.6" height="58.4" fill="#000"/>
<rect x="2090.6" y="300.8" width="32.2" height="2.8" fill="#aaa"/>
<rect x="2090.6" y="413.2" width="32.2" height="2.8" fill="#000"/>
<g fill="#000">
<rect x="215" y="53" width="1964.5" height="6.5"/>
<rect x="215" y="1485.5" width="1964.5" height="6"/>
<rect x="243" y="53" width="7" height="1462"/>
<rect x="2173.5" y="53" width="6" height="1449"/>
<rect x="231" y="133.0" width="14" height="6"/>
<rect x="215" y="212.5" width="30" height="6"/>
<rect x="231" y="292.1" width="14" height="6"/>
<rect x="215" y="371.6" width="30" height="6"/>
<rect x="231" y="451.2" width="14" height="6"/>
<rect x="215" y="530.8" width="30" height="6"/>
<rect x="231" y="610.3" width="14" height="6"/>
<rect x="215" y="689.9" width="30" height="6"/>
<rect x="231" y="769.4" width="14" height="6"/>
<rect x="215" y="849.0" width="30" height="6"/>
<rect x="231" y="928.6" width="14" height="6"/>
<rect x="215" y="1008.1" width="30" height="6"/>
<rect x="231" y="1087.7" width="14" height="6"/>
<rect x="215" y="1167.3" width="30" height="6"/>
<rect x="231" y="1246.8" width="14" height="6"/>
<rect x="215" y="1326.4" width="30" height="6"/>
<rect x="231" y="1405.9" width="14" height="6"/>
<rect x="594.2" y="1488" width="5.5" height="27"/>
<rect x="945.2" y="1488" width="5.5" height="27"/>
<rect x="1296.2" y="1488" width="5.5" height="27"/>
<rect x="1647.2" y="1488" width="5.5" height="27"/>
<rect x="1997.2" y="1488" width="5.5" height="27"/>
<rect x="418.8" y="1488" width="5.5" height="14"/>
<rect x="769.8" y="1488" width="5.5" height="14"/>
<rect x="1120.8" y="1488" width="5.5" height="14"/>
<rect x="1471.8" y="1488" width="5.5" height="14"/>
<rect x="1822.8" y="1488" width="5.5" height="14"/>
</g>
<rect x="302.1" y="154.7" width="155.3" height="70.3" fill="url(#pk)" stroke="#000" stroke-width="5"/>
<rect x="302.1" y="236.3" width="155.3" height="68.1" fill="url(#og)" stroke="#000" stroke-width="5"/>
<rect x="302.1" y="315.5" width="155.3" height="70.5" fill="url(#bl)" stroke="#000" stroke-width="5"/>
<rect x="302.1" y="396.9" width="155.3" height="67.8" fill="url(#dr)" stroke="#000" stroke-width="5"/>
<text transform="translate(0 209.0) scale(1.1500 1)" font-size="55.7"><tspan x="410.96">UV </tspan><tspan x="501.91">alone</tspan></text>
<text transform="translate(0 290.0) scale(1.1300 1)" font-size="55.7"><tspan x="417.96">UV </tspan><tspan x="509.20">+ </tspan><tspan x="551.68">coating </tspan><tspan x="737.08">with </tspan><tspan x="856.19">5 </tspan><tspan x="892.65">: </tspan><tspan x="919.47">5 </tspan><tspan x="960.27">ratio</tspan></text>
<text transform="translate(0 370.0) scale(1.1300 1)" font-size="55.7"><tspan x="417.96">UV </tspan><tspan x="509.20">+ </tspan><tspan x="551.68">coating </tspan><tspan x="737.08">with </tspan><tspan x="857.96">4 </tspan><tspan x="892.65">: </tspan><tspan x="919.47">5 </tspan><tspan x="960.27">ratio</tspan></text>
<text transform="translate(0 450.7) scale(1.1300 1)" font-size="55.7"><tspan x="417.96">UV </tspan><tspan x="509.20">+ </tspan><tspan x="551.68">coating </tspan><tspan x="737.08">with </tspan><tspan x="857.08">3 </tspan><tspan x="892.65">: </tspan><tspan x="919.47">5 </tspan><tspan x="960.27">ratio</tspan></text>
<text transform="translate(0 1649.2) scale(1.1400 1)" font-size="75.0"><tspan x="706.14">Irradiation </tspan><tspan x="1078.60">time </tspan><tspan x="1240.44">(min)</tspan></text>
<text transform="translate(82.3 0) rotate(-90) scale(0.9550 1)" font-size="82.6"><tspan x="-1045.03">Degradation </tspan><tspan x="-590.58">%</tspan></text>
<text transform="translate(0 70.2) scale(1.1500 1)" font-size="60.0" letter-spacing="-1.20" style="font-weight:400" stroke="#000" stroke-width="1.90"><tspan x="111.13">18</tspan></text>
<text transform="translate(0 229.3) scale(1.1500 1)" font-size="60.0" letter-spacing="-1.20" style="font-weight:400" stroke="#000" stroke-width="1.90"><tspan x="110.26">16</tspan></text>
<text transform="translate(0 388.4) scale(1.1500 1)" font-size="60.0" letter-spacing="-1.20" style="font-weight:400" stroke="#000" stroke-width="1.90"><tspan x="109.39">14</tspan></text>
<text transform="translate(0 547.6) scale(1.1500 1)" font-size="60.0" letter-spacing="-1.20" style="font-weight:400" stroke="#000" stroke-width="1.90"><tspan x="112.00">12</tspan></text>
<text transform="translate(0 706.7) scale(1.1500 1)" font-size="60.0" letter-spacing="-1.20" style="font-weight:400" stroke="#000" stroke-width="1.90"><tspan x="111.13">10</tspan></text>
<text transform="translate(0 865.8) scale(1.1500 1)" font-size="60.0" letter-spacing="-1.20" style="font-weight:400" stroke="#000" stroke-width="1.90"><tspan x="139.39">8</tspan></text>
<text transform="translate(0 1024.9) scale(1.1500 1)" font-size="60.0" letter-spacing="-1.20" style="font-weight:400" stroke="#000" stroke-width="1.90"><tspan x="138.52">6</tspan></text>
<text transform="translate(0 1184.0) scale(1.1500 1)" font-size="60.0" letter-spacing="-1.20" style="font-weight:400" stroke="#000" stroke-width="1.90"><tspan x="137.65">4</tspan></text>
<text transform="translate(0 1343.2) scale(1.1500 1)" font-size="60.0" letter-spacing="-1.20" style="font-weight:400" stroke="#000" stroke-width="1.90"><tspan x="140.26">2</tspan></text>
<text transform="translate(0 1502.3) scale(1.1500 1)" font-size="60.0" letter-spacing="-1.20" style="font-weight:400" stroke="#000" stroke-width="1.90"><tspan x="139.39">0</tspan></text>
<text transform="translate(0 1577.8) scale(1.1500 1)" font-size="60.0" letter-spacing="-1.20" style="font-weight:400" stroke="#000" stroke-width="1.90"><tspan x="503.39">0</tspan></text>
<text transform="translate(0 1577.8) scale(1.1500 1)" font-size="60.0" letter-spacing="-1.20" style="font-weight:400" stroke="#000" stroke-width="1.90"><tspan x="793.83">30</tspan></text>
<text transform="translate(0 1577.8) scale(1.1500 1)" font-size="60.0" letter-spacing="-1.20" style="font-weight:400" stroke="#000" stroke-width="1.90"><tspan x="1100.17">60</tspan></text>
<text transform="translate(0 1577.8) scale(1.1500 1)" font-size="60.0" letter-spacing="-1.20" style="font-weight:400" stroke="#000" stroke-width="1.90"><tspan x="1407.22">90</tspan></text>
<text transform="translate(0 1577.8) scale(1.1500 1)" font-size="60.0" letter-spacing="-1.20" style="font-weight:400" stroke="#000" stroke-width="1.90"><tspan x="1693.48">120</tspan></text>
</svg></body></html>
